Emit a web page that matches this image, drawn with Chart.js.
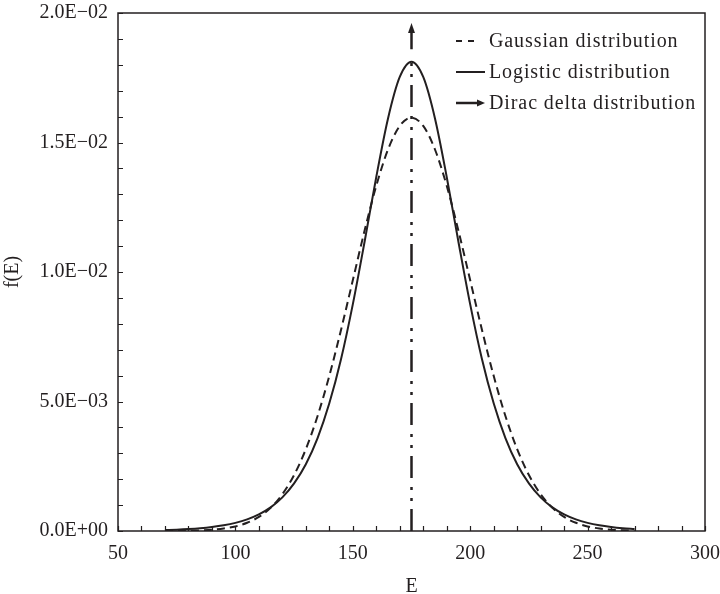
<!DOCTYPE html>
<html>
<head>
<meta charset="utf-8">
<script src="https://cdn.jsdelivr.net/npm/chart.js@4.4.1/dist/chart.umd.min.js"></script>
<style>
  html, body { margin: 0; padding: 0; background: #fff; }
  #wrap { width: 720px; height: 594px; }
</style>
</head>
<body>
<div id="wrap"><canvas id="c" width="720" height="594"></canvas></div>
<script>
// ── data ──
const energies = [70, 75, 80, 85, 90, 95, 100, 105, 110, 115, 120, 125, 130, 135, 140, 145, 150, 155, 160, 165, 170,
                  175, 180, 185, 190, 195, 200, 205, 210, 215, 220, 225, 230, 235, 240, 245, 250, 255, 260, 265, 270];
const gaussian = [0.0000024, 0.0000054, 0.0000117, 0.0000245, 0.0000493, 0.0000954, 0.000177, 0.000317, 0.000543, 0.000896, 0.00142,
                  0.00216, 0.00316, 0.00444, 0.00599, 0.00777, 0.00968, 0.01159, 0.01333, 0.01473, 0.01564,
                  0.01596,
                  0.01564, 0.01473, 0.01333, 0.01159, 0.00968, 0.00777, 0.00599, 0.00444, 0.00316, 0.00216,
                  0.00142, 0.000896, 0.000543, 0.000317, 0.000177, 0.0000954, 0.0000493, 0.0000245, 0.0000117];
const logistic = [0.0000359, 0.0000516, 0.0000741, 0.000106, 0.000153, 0.000219, 0.000314, 0.000449, 0.000641, 0.000914, 0.00130,
                  0.00184, 0.00258, 0.00359, 0.00493, 0.00664, 0.00875, 0.01116, 0.01367, 0.01593, 0.01753,
                  0.01812,
                  0.01753, 0.01593, 0.01367, 0.01116, 0.00875, 0.00664, 0.00493, 0.00359, 0.00258, 0.00184,
                  0.00130, 0.000914, 0.000641, 0.000449, 0.000314, 0.000219, 0.000153, 0.000106, 0.0000741];
const diracE = 175;
const diracDashY = [0, 0.0182];       // dash-dot part
const diracArrowY = [0.0186, 0.01942]; // solid shaft up to arrow head

const xTickLabels = ['50', '100', '150', '200', '250', '300'];
const yTickLabels = ['0.0E+00', '5.0E\u221203', '1.0E\u221202', '1.5E\u221202', '2.0E\u221202'];
const legendLabels = ['Gaussian distribution', 'Logistic distribution', 'Dirac delta distribution'];

const INK = '#231f20';
const FONT = 'Liberation Serif';

// narrow arrow head used as point style
const head = document.createElement('canvas');
head.width = 7; head.height = 10;
(function () {
  const g = head.getContext('2d');
  g.fillStyle = INK;
  g.beginPath(); g.moveTo(3.5, 0); g.lineTo(7, 10); g.lineTo(0, 10); g.closePath(); g.fill();
})();

const xy = (xs, ys) => xs.map((x, i) => ({ x, y: ys[i] }));

// frame, inward ticks and legend
const framePlugin = {
  id: 'frame',
  afterDraw(chart) {
    const { ctx, chartArea: a, scales: { x, y } } = chart;
    ctx.save();
    ctx.strokeStyle = INK;
    ctx.lineWidth = 1.5;
    ctx.setLineDash([]);
    ctx.strokeRect(a.left, a.top, a.right - a.left, a.bottom - a.top);
    ctx.lineWidth = 1.2;
    ctx.beginPath();
    x.ticks.forEach(t => {
      const px = Math.round(x.getPixelForValue(t.value)) + 0.5;
      ctx.moveTo(px, a.bottom); ctx.lineTo(px, a.bottom - 5);
    });
    y.ticks.forEach(t => {
      const py = Math.round(y.getPixelForValue(t.value)) + 0.5;
      ctx.moveTo(a.left, py); ctx.lineTo(a.left + 5, py);
    });
    ctx.stroke();

    // legend
    const lx = 456, tx = 489, rows = [41, 72, 103];
    ctx.lineWidth = 2;
    ctx.setLineDash([6, 6]);
    ctx.beginPath(); ctx.moveTo(lx, rows[0]); ctx.lineTo(lx + 18, rows[0]); ctx.stroke();
    ctx.setLineDash([]);
    ctx.beginPath(); ctx.moveTo(lx, rows[1]); ctx.lineTo(lx + 29, rows[1]); ctx.stroke();
    ctx.lineWidth = 2.5;
    ctx.beginPath(); ctx.moveTo(lx, rows[2]); ctx.lineTo(lx + 22, rows[2]); ctx.stroke();
    ctx.fillStyle = INK;
    ctx.beginPath(); ctx.moveTo(lx + 29, rows[2]); ctx.lineTo(lx + 21, rows[2] - 3.5); ctx.lineTo(lx + 21, rows[2] + 3.5); ctx.closePath(); ctx.fill();
    ctx.font = '20px "' + FONT + '"';
    ctx.letterSpacing = '0.9px';
    ctx.textBaseline = 'middle';
    ctx.textAlign = 'left';
    legendLabels.forEach((s, i) => ctx.fillText(s, tx, rows[i] + 1));
    ctx.restore();
  }
};

new Chart(document.getElementById('c'), {
  type: 'line',
  data: {
    datasets: [{
      label: legendLabels[0],
      data: xy(energies, gaussian),
      borderColor: INK, borderWidth: 2, borderDash: [8, 5],
      pointRadius: 0, cubicInterpolationMode: 'monotone', fill: false,
    }, {
      label: legendLabels[1],
      data: xy(energies, logistic),
      borderColor: INK, borderWidth: 2,
      pointRadius: 0, cubicInterpolationMode: 'monotone', fill: false,
    }, {
      label: legendLabels[2],
      data: diracDashY.map(v => ({ x: diracE, y: v })),
      borderColor: INK, borderWidth: 2.5, borderDash: [22, 8, 3, 8, 3, 9], borderCapStyle: 'butt',
      pointRadius: 0, fill: false,
    }, {
      label: 'arrow',
      data: diracArrowY.map(v => ({ x: diracE, y: v })),
      borderColor: INK, borderWidth: 2.5,
      pointStyle: [false, head], pointRadius: [0, 5], fill: false,
    }]
  },
  options: {
    responsive: false,
    animation: false,
    layout: { padding: { left: 0, top: 13, right: 15, bottom: 0 } },
    plugins: { legend: { display: false }, tooltip: { enabled: false } },
    scales: {
      x: {
        type: 'linear', min: 50, max: 300,
        afterFit: s => { s.height = 63; s.paddingLeft = 0; s.paddingRight = 0; },
        grid: { display: false, drawTicks: false },
        border: { display: false },
        ticks: {
          stepSize: 10, autoSkip: false, maxRotation: 0, maxTicksLimit: 40, padding: 11,
          color: INK, font: { family: FONT, size: 20 },
          callback: v => (v % 50 === 0 ? xTickLabels[Math.round((v - 50) / 50)] : '')
        },
        title: { display: true, text: 'E', color: INK, font: { family: FONT, size: 20, lineHeight: 1 }, padding: { top: 0, bottom: -3 } }
      },
      y: {
        min: 0, max: 0.02,
        afterFit: s => { s.width = 118; s.paddingTop = 0; s.paddingBottom = 0; },
        grid: { display: false, drawTicks: false },
        border: { display: false },
        ticks: {
          stepSize: 0.001, autoSkip: false, maxTicksLimit: 40, padding: 10,
          color: INK, font: { family: FONT, size: 20 },
          callback: v => {
            const i = Math.round(v / 0.005);
            return Math.abs(v - i * 0.005) < 1e-9 ? yTickLabels[i] : '';
          }
        },
        title: { display: true, text: 'f(E)', color: INK, font: { family: FONT, size: 20, lineHeight: 1 }, padding: { top: 3, bottom: 0 } }
      }
    }
  },
  plugins: [framePlugin]
});
</script>
</body>
</html>
